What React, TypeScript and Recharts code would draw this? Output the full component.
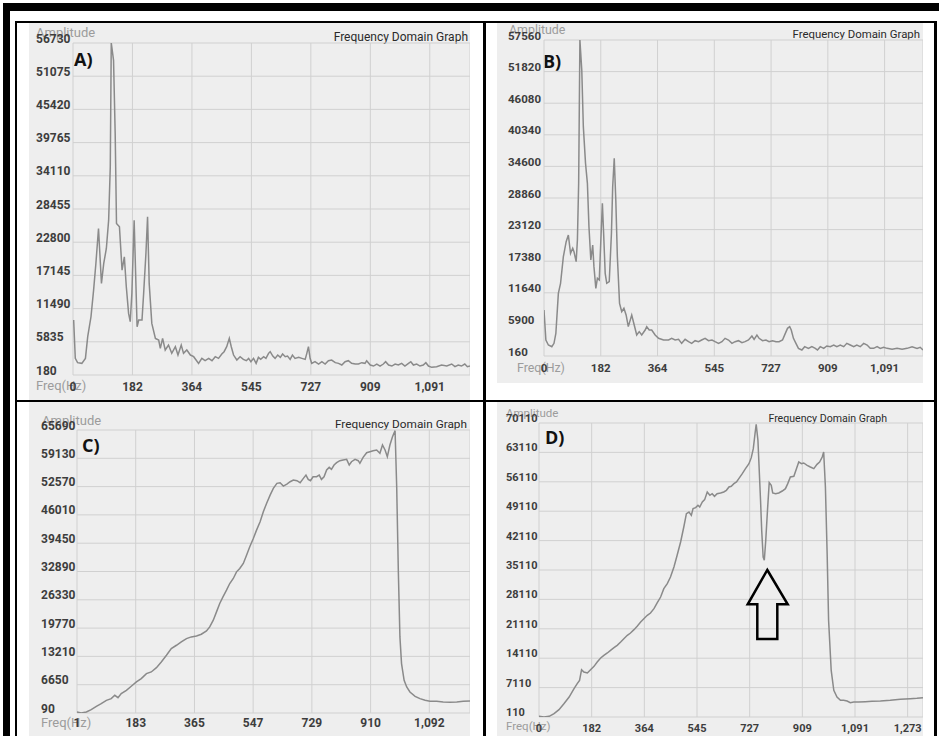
import React from "react";
import { LineChart, Line, XAxis, YAxis, CartesianGrid } from "recharts";

// ---------------- Panel A ----------------
const freqA = [2,7,14,27,38,45,55,63,70,78,87,94,102,109,114,117,124,129,133,142,150,157,163,170,175,180,187,196,201,211,216,223,228,233,241,252,262,267,274,282,292,302,313,321,331,338,348,359,369,384,394,404,415,425,435,445,455,462,470,478,484,491,501,511,521,530,537,544,552,560,567,574,583,590,598,603,611,618,626,634,641,649,656,664,671,679,690,700,710,715,720,725,730,740,751,761,771,781,791,802,812,822,832,842,852,863,873,883,893,898,909,919,929,939,949,956,965,975,985,995,1005,1015,1026,1033,1041,1051,1061,1071,1079,1087,1097,1112,1127,1143,1158,1168,1178,1188,1198,1206,1214];
const ampA = [9540,3015,2280,2165,3015,6700,10100,14640,19180,25140,15780,19180,21735,26555,35630,56730,53780,41300,25990,25420,18050,20315,15210,10670,9255,14075,26555,8400,9540,9540,14075,20880,27120,15780,8970,6420,6135,4715,6420,4435,5285,3870,5000,3580,5285,3870,4435,3580,3300,2165,3015,2620,3015,2620,3300,3015,3750,4150,5000,6420,5000,3580,2730,3300,2845,2620,3015,2450,3015,2165,3185,2845,3300,3015,3870,4150,3410,3015,3580,3185,3750,3300,3410,2845,3580,3015,3185,3015,2845,3870,5000,3015,2165,2450,2050,2450,2050,2620,2730,2280,2165,1880,2450,2620,2165,2050,2050,2280,2165,2620,1880,1710,2050,1710,2050,2450,1880,1710,2050,1880,2165,1710,2165,2450,1880,2050,1710,1880,2280,1710,1485,1600,1880,1710,2050,1600,1880,1710,2050,1600,1710];
const yTicksA = [180,5835,11490,17145,22800,28455,34110,39765,45420,51075,56730];
const xTicksA = [0,181.83,363.67,545.5,727.33,909.17,1091];
const xLabelsA = ["0","182","364","545","727","909","1,091"];

// ---------------- Panel B ----------------
const freqB = [0,6,14,25,32,38,46,53,62,71,78,85,92,96,103,107,111,115,121,126,133,139,144,150,156,160,166,171,177,183,187,191,196,201,209,216,220,225,230,235,242,249,256,263,270,281,289,297,305,313,324,329,337,345,356,367,383,399,409,420,431,441,452,463,473,484,495,505,516,527,538,548,559,570,580,591,602,612,623,634,644,655,666,673,682,689,700,711,721,732,743,753,764,773,780,787,792,799,807,815,826,835,847,858,869,876,885,896,906,917,928,938,949,960,970,981,992,1002,1013,1024,1035,1045,1056,1067,1077,1088,1099,1115,1131,1147,1163,1179,1195,1205,1214];
const ampB = [8516,3066,2158,1855,2460,4277,11543,13360,18200,20930,22140,18810,19720,19110,17295,21230,31525,57560,52110,41820,35160,31525,23655,17600,20320,16390,12455,14270,13965,22440,27890,22440,15175,13360,13665,22440,30920,36065,28495,18200,9725,8210,8820,7610,5490,7610,5790,3975,4580,3975,4880,5490,4880,4880,3975,3370,3066,3066,3370,3066,3190,2460,3190,2765,2460,2945,2765,3066,3370,2945,3066,2765,2460,2765,3370,3066,2460,2765,2945,2580,2765,3066,3790,3190,3975,3370,2945,3066,2765,2945,2765,2765,3066,4277,5185,5490,4880,3370,2460,1550,1250,1855,1550,1855,1550,1250,1855,1550,1975,1855,2158,1855,2158,1855,2460,2158,1855,2158,1855,2460,2158,1550,1550,1855,1550,1735,1550,1370,1550,1370,1550,1855,1550,1735,1250];
const yTicksB = [160,5900,11640,17380,23120,28860,34600,40340,46080,51820,57560];
const xTicksB = [0,181.83,363.67,545.5,727.33,909.17,1091];
const xLabelsB = ["0","182","364","545","727","909","1,091"];

// ---------------- Panel C ----------------
const freqC = [1,14,30,45,61,76,92,107,118,128,138,154,169,185,200,216,231,247,262,278,293,309,324,340,355,371,386,402,412,423,433,443,453,464,474,485,495,505,516,526,536,547,557,568,578,588,599,609,620,630,640,651,661,671,682,692,702,710,717,724,732,743,751,758,766,774,782,789,797,805,815,825,836,844,851,862,872,877,887,898,908,918,929,939,947,955,962,970,978,986,991,996,1001,1006,1014,1022,1032,1048,1063,1079,1094,1115,1135,1156,1177,1197,1218];
const ampC = [322,90,322,864,1637,2256,3030,3416,4190,3648,4577,5350,6280,7285,8060,9218,9605,10610,11926,13473,15020,15794,16568,17340,17730,17960,18350,19120,20050,21600,23530,25465,27010,28560,30100,31270,32810,33585,34750,36680,38615,40550,42480,44415,46740,48670,50600,52150,53315,53470,52700,53160,53700,54090,53930,53470,54470,55250,54240,53930,54860,54860,55250,54240,54860,56410,57030,56560,57570,58110,58575,58730,58880,57570,58340,58880,58575,57960,59350,60430,60660,60900,61050,60280,62210,61050,59500,62210,64140,65540,52540,33200,17730,11540,7670,6124,4960,3958,3416,3030,2800,2800,2640,2565,2640,2800,2875];
const yTicksC = [90,6650,13210,19770,26330,32890,39450,46010,52570,59130,65690];
const xTicksC = [1,182.83,364.67,546.5,728.33,910.17,1092];
const xLabelsC = ["1","183","365","547","729","910","1,092"];

// ---------------- Panel D ----------------
const freqD = [0,17,35,52,69,86,104,121,132,140,147,155,167,178,190,201,213,224,236,247,259,270,282,293,305,316,328,339,351,362,374,385,397,408,420,431,443,454,466,477,489,500,509,518,526,532,541,549,555,564,572,581,590,598,606,615,627,638,647,656,664,673,682,690,702,713,725,733,740,746,750,756,760,765,769,774,778,783,789,795,802,807,817,828,840,851,859,868,880,889,897,906,914,926,937,949,960,969,978,983,989,995,1000,1009,1018,1029,1041,1052,1064,1075,1087,1104,1127,1150,1179,1213,1248,1282,1305,1326];
const ampD = [270,110,270,904,1856,3285,4870,6855,8050,8840,11380,10825,10590,11380,12175,13205,14160,14790,15350,15985,16620,17175,17970,18760,19555,20110,20905,21700,22730,23525,24320,24875,25905,27255,28680,30670,31860,33445,35825,38605,41780,45350,48525,48920,48130,49715,49955,50510,50110,51305,51860,53685,52890,53290,52655,53290,53450,53685,54080,54875,55035,55670,56065,56860,58050,59240,60430,61860,64000,67575,69795,65985,59635,51700,44555,38210,37415,42175,49320,55905,55270,53450,53290,53450,53920,54480,55670,57255,57415,59240,60830,60430,60590,60035,59635,59240,60270,60830,62020,63210,54875,38990,23130,11220,6460,4870,4080,4080,3920,3525,3680,3680,3760,3840,3920,4080,4315,4475,4555,4715];
const yTicksD = [110,7110,14110,21110,28110,35110,42110,49110,56110,63110,70110];
const xTicksD = [0,181.86,363.71,545.57,727.43,909.29,1091.14,1273];
const xLabelsD = ["0","182","364","545","727","909","1,091","1,273"];

const FONT = "Roboto, 'Noto Sans', sans-serif";
const BG = "#eeeeee";

type PanelProps = {
  left: number; top: number; width: number; height: number;
  plotLeft: number; plotTop: number; plotBottom: number;
  freq: number[]; amp: number[];
  xDomain: [number, number]; xTicks: number[]; xLabels: string[];
  yDomain: [number, number]; yTicks: number[];
  yLabelX: number; xLabelY: number;
  ampPos: [number, number]; freqPos: [number, number];
  titlePos: [number, number]; letter: string; letterPos: [number, number];
  tickSize: number; titleSize: number; ampSize: number;
  arrow?: boolean;
};

function Panel(p: PanelProps) {
  const data = p.freq.map((f, i) => ({ f, a: p.amp[i] }));
  const fs = p.tickSize;
  const YTick = (props: any) => (
    <text x={p.yLabelX} y={props.y - 4.5} textAnchor="start" dominantBaseline="central"
      fontFamily={FONT} fontSize={fs} fontWeight={700} fill="#3d3d3d">
      {String(props.payload.value)}
    </text>
  );
  const XTick = (props: any) => {
    const i = p.xTicks.findIndex((t) => Math.abs(t - props.payload.value) < 0.01);
    return (
      <text x={props.x} y={p.xLabelY} textAnchor="middle" dominantBaseline="central"
        fontFamily={FONT} fontSize={fs} fontWeight={700} fill="#3d3d3d">
        {i >= 0 ? p.xLabels[i] : ""}
      </text>
    );
  };
  return (
    <div style={{ position: "absolute", left: p.left, top: p.top, width: p.width, height: p.height, background: BG }}>
      <svg style={{ position: "absolute", left: 0, top: 0 }} width={p.width} height={p.height}>
        <text x={p.ampPos[0]} y={p.ampPos[1]} dominantBaseline="central" fontFamily={FONT} fontSize={p.ampSize} fill="#9c9c9c">Amplitude</text>
        <text x={p.freqPos[0]} y={p.freqPos[1]} dominantBaseline="central" fontFamily={FONT} fontSize={p.ampSize} fill="#9c9c9c">Freq(Hz)</text>
        <text x={p.titlePos[0]} y={p.titlePos[1]} textAnchor="end" dominantBaseline="central" fontFamily={FONT} fontSize={p.titleSize} fill="#2a2a2a">Frequency Domain Graph</text>
        <text x={p.letterPos[0]} y={p.letterPos[1]} dominantBaseline="central" fontFamily="'Open Sans', sans-serif" fontSize={18} fontWeight={700} fill="#111">{p.letter}</text>
      </svg>
      <div style={{ position: "absolute", left: 0, top: 0 }}>
        <LineChart width={p.width} height={p.height} data={data} margin={{ top: p.plotTop, right: 0, bottom: 0, left: 0 }}>
          <CartesianGrid stroke="#d0d0d0" strokeWidth={1} />
          <XAxis type="number" dataKey="f" domain={p.xDomain} ticks={p.xTicks} interval={0} allowDataOverflow
            height={p.height - p.plotBottom} axisLine={false} tickLine={false} tick={XTick} />
          <YAxis type="number" domain={p.yDomain} ticks={p.yTicks} interval={0} allowDataOverflow
            width={p.plotLeft} axisLine={false} tickLine={false} tick={YTick} />
          <Line type="linear" dataKey="a" stroke="#8a8a8a" strokeWidth={1.5} dot={false} isAnimationActive={false} />
        </LineChart>
      </div>
      {p.arrow && (
        <svg style={{ position: "absolute", left: 0, top: 0 }} width={p.width} height={p.height}>
          <path d="M270.3,168 L290.7,202.3 L280.3,202.3 L280.3,237 L260.3,237 L260.3,202.3 L250.7,202.3 Z"
            fill="none" stroke="#000" strokeWidth={2.5} strokeLinejoin="miter" />
        </svg>
      )}
    </div>
  );
}

const blk = (left: number, top: number, width: number, height: number) => (
  <div style={{ position: "absolute", left, top, width, height, background: "#000" }} />
);

export default function App() {
  return (
    <div style={{ position: "absolute", left: 0, top: 0, width: 939, height: 736, background: "#fff", overflow: "hidden" }}>
      <Panel left={29} top={23} width={441} height={377} plotLeft={44} plotTop={20} plotBottom={352}
        freq={freqA} amp={ampA} xDomain={[0, 1214]} xTicks={xTicksA} xLabels={xLabelsA}
        yDomain={[180, 56730]} yTicks={yTicksA} yLabelX={7} xLabelY={364}
        tickSize={12} titleSize={12} ampSize={13}
        ampPos={[7, 9]} freqPos={[7, 362]} titlePos={[439, 14]} letter="A)" letterPos={[45, 36]} />
      <Panel left={497} top={23} width={426} height={360} plotLeft={47} plotTop={17} plotBottom={333}
        freq={freqB} amp={ampB} xDomain={[0, 1214]} xTicks={xTicksB} xLabels={xLabelsB}
        yDomain={[160, 57560]} yTicks={yTicksB} yLabelX={11} xLabelY={345}
        tickSize={11.5} titleSize={11.4} ampSize={12.4}
        ampPos={[12, 6]} freqPos={[20, 344]} titlePos={[423, 11]} letter="B)" letterPos={[46, 38]} />
      <Panel left={29} top={402} width={441} height={334} plotLeft={48} plotTop={28} plotBottom={311}
        freq={freqC} amp={ampC} xDomain={[1, 1218]} xTicks={xTicksC} xLabels={xLabelsC}
        yDomain={[90, 65690]} yTicks={yTicksC} yLabelX={12} xLabelY={321}
        tickSize={12} titleSize={11.8} ampSize={13}
        ampPos={[13, 18]} freqPos={[12, 320]} titlePos={[438, 22]} letter="C)" letterPos={[53, 43]} />
      <Panel left={497} top={402} width={426} height={334} plotLeft={42} plotTop={21} plotBottom={315}
        freq={freqD} amp={ampD} xDomain={[0, 1326]} xTicks={xTicksD} xLabels={xLabelsD}
        yDomain={[110, 70110]} yTicks={yTicksD} yLabelX={9} xLabelY={326}
        tickSize={11} titleSize={10.6} ampSize={11.5}
        ampPos={[9, 11]} freqPos={[9, 324]} titlePos={[390, 16]} letter="D)" letterPos={[48, 35]} arrow />
      {blk(3, 3, 7, 733)}
      {blk(3, 3, 936, 8)}
      {blk(15, 21, 2, 715)}
      {blk(15, 21, 921, 2)}
      {blk(934, 21, 3, 715)}
      {blk(483, 21, 3, 715)}
      {blk(15, 400, 921, 2)}
    </div>
  );
}
